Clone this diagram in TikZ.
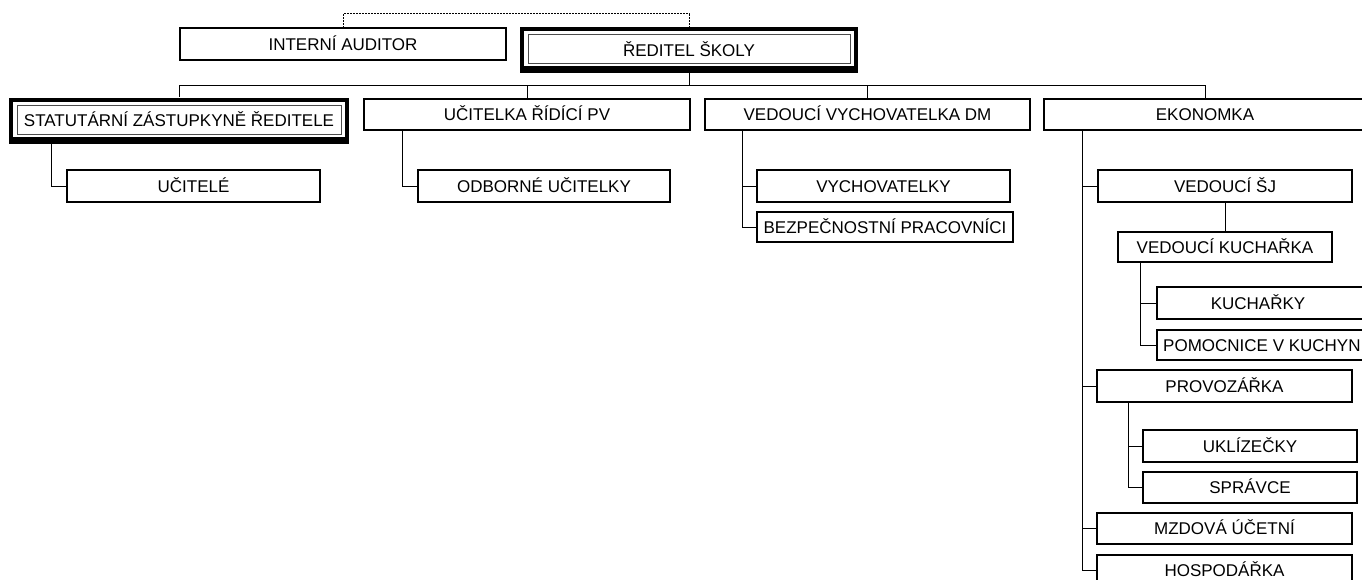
\documentclass[tikz,border=0pt]{standalone}
\usepackage{fontspec}
\setmainfont{Liberation Sans}
\usetikzlibrary{calc}
\begin{document}
\begin{tikzpicture}[x=1pt,y=-1pt,
  txt/.style={font=\fontsize{17}{19}\selectfont,text height=12.2pt,text depth=0pt},
  conn/.style={line width=1pt},
  box/.style={draw,line width=2pt}]
\useasboundingbox (0,0) rectangle (1362,579);
\newcommand{\plainbox}[6]{%
  \draw[box] (#2,#3) rectangle (#4,#5);
  \node[txt,inner sep=0,minimum width={#4-#2},minimum height={#5-#3}] (#1) at ({(#2+#4)/2},{(#3+#5)/2}) {#6};}
% thick boxes
\fill[black] (520,27) rectangle (858,73);
\fill[white] (524,31) rectangle (854,66);
\draw[line width=1pt, black!70] (528,34) rectangle (850,63);
\node[txt,inner sep=0,minimum width=338,minimum height=46] (reditel) at (689,50) {ŘEDITEL ŠKOLY};
\fill[black] (9,98) rectangle (349,144);
\fill[white] (13,102) rectangle (345,137);
\draw[line width=1pt, black!70] (17,105) rectangle (341,134);
\node[txt,inner sep=0,minimum width=340,minimum height=46] (statutar) at (179,120) {STATUTÁRNÍ ZÁSTUPKYNĚ ŘEDITELE};
\plainbox{auditor}{180}{28}{506}{60}{INTERNÍ AUDITOR}
\plainbox{ucitelka}{364}{99}{690}{130}{UČITELKA ŘÍDÍCÍ PV}
\plainbox{vychdm}{705}{99}{1030}{130}{VEDOUCÍ VYCHOVATELKA DM}
\plainbox{ekonomka}{1044}{99}{1366}{130}{EKONOMKA}
\plainbox{ucitele}{67}{170}{320}{202}{UČITELÉ}
\plainbox{odborne}{418}{170}{670}{202}{ODBORNÉ UČITELKY}
\plainbox{vychovatelky}{757}{170}{1010}{202}{VYCHOVATELKY}
\plainbox{bezpec}{757}{212}{1013}{242}{BEZPEČNOSTNÍ PRACOVNÍCI}
\plainbox{vedsj}{1098}{170}{1352}{202}{VEDOUCÍ ŠJ}
\plainbox{vedkuch}{1118}{232}{1332}{262}{VEDOUCÍ KUCHAŘKA}
\draw[box] (1372,287) -- (1157,287) -- (1157,319) -- (1372,319);
\node[txt,inner sep=0,minimum width=202,minimum height=32] (kucharky) at (1258,303) {KUCHAŘKY};
\coordinate (kuchw) at (1157,303);
\draw[box] (1372,330) -- (1157,330) -- (1157,360) -- (1372,360);
\node[txt,inner sep=0,anchor=west] (pomocnice) at (1163,345) {POMOCNICE V KUCHYNI};
\coordinate (pomw) at (1157,345);
\plainbox{provoz}{1097}{370}{1352}{402}{PROVOZÁŘKA}
\plainbox{uklizecky}{1143}{430}{1357}{462}{UKLÍZEČKY}
\plainbox{spravce}{1143}{472}{1357}{503}{SPRÁVCE}
\plainbox{mzdova}{1097}{513}{1352}{544}{MZDOVÁ ÚČETNÍ}
\plainbox{hospod}{1097}{555}{1352}{586}{HOSPODÁŘKA}
% dashed link
\draw[line width=0.8pt, dash pattern=on 2pt off 1pt] (auditor.north) -- ++(0,-14) -| (reditel.north);
% bus
\coordinate (bus) at (689,85);
\draw[conn] (reditel.south) -- (bus);
\draw[conn] (statutar.north |- bus) -- (1205,85);
\foreach \n in {statutar,ucitelka,vychdm} \draw[conn] (\n.north |- bus) -- (\n.north);
\draw[conn] (1205,85) -- (1205,99);
% children
\draw[conn] ($(statutar.south west)+(43,0)$) |- (ucitele.west);
\draw[conn] ($(ucitelka.south west)+(39,0)$) |- (odborne.west);
\draw[conn] ($(vychdm.south west)+(38,0)$) |- (bezpec.west);
\draw[conn] ($(vychdm.south west)+(38,0)$) |- (vychovatelky.west);
\draw[conn] ($(ekonomka.south west)+(39,0)$) |- (hospod.west);
\foreach \n in {vedsj,provoz,mzdova} \draw[conn] (1083,0 |- \n.west) -- (\n.west);
\draw[conn] (vedsj.south -| 1225,0) -- (vedkuch.north -| 1225,0);
\draw[conn] ($(vedkuch.south west)+(23,0)$) |- (pomw);
\draw[conn] (1141,0 |- kuchw) -- (kuchw);
\draw[conn] ($(provoz.south west)+(32,0)$) |- (spravce.west);
\draw[conn] (1129,0 |- uklizecky.west) -- (uklizecky.west);
\end{tikzpicture}
\end{document}
